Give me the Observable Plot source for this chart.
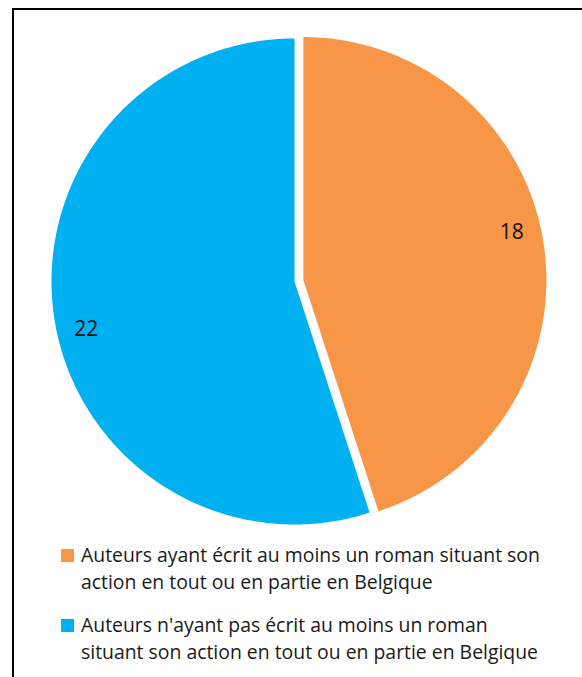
<!DOCTYPE html>
<html>
<head>
<meta charset="utf-8">
<script src="https://cdn.jsdelivr.net/npm/d3@7"></script>
<script src="https://cdn.jsdelivr.net/npm/@observablehq/plot@0.6"></script>
<style>
  html, body { margin: 0; padding: 0; background: #fff; }
  body { width: 582px; height: 677px; position: relative; overflow: hidden; font-family: "Open Sans", sans-serif; }
  #frame { position: absolute; left: 12px; top: 8px; right: -10px; bottom: -10px; border-left: 2px solid #000; border-top: 2px solid #000; }
  #chart { position: absolute; left: 0; top: 0; }
  #legend { position: absolute; left: 61px; top: 541px; color: #1a1a1a; font-size: 19.4px; line-height: 27px; white-space: nowrap; }
  .item { display: flex; align-items: flex-start; margin-bottom: 16px; }
  .sw { width: 13px; height: 13px; margin-top: 8px; margin-right: 7px; flex: none; }
</style>
</head>
<body>
<div id="frame"></div>
<div id="chart"></div>
<div id="legend"></div>
<script>
const categories = [
  "Auteurs ayant écrit au moins un roman situant son action en tout ou en partie en Belgique",
  "Auteurs n'ayant pas écrit au moins un roman situant son action en tout ou en partie en Belgique"
];
const legendLines = [
  ["Auteurs ayant écrit au moins un roman situant son", "action en tout ou en partie en Belgique"],
  ["Auteurs n'ayant pas écrit au moins un roman", "situant son action en tout ou en partie en Belgique"]
];
const values = [18, 22];
const colors = ["#F79646", "#00B0F0"];
const explode = [0.037, 0];

const pie = d3.pie().sort(null).value(d => d.value)(
  categories.map((c, i) => ({ key: c, value: values[i], i }))
);

const slicePts = [];
const labels = [];
pie.forEach(p => {
  const i = p.data.i;
  const mid = (p.startAngle + p.endAngle) / 2;
  const ox = explode[i] * Math.sin(mid), oy = explode[i] * Math.cos(mid);
  slicePts.push({ key: p.data.key, x: ox, y: oy });
  const n = Math.max(2, Math.ceil((p.endAngle - p.startAngle) / 0.01));
  for (let k = 0; k <= n; k++) {
    const a = p.startAngle + (p.endAngle - p.startAngle) * k / n;
    slicePts.push({ key: p.data.key, x: ox + Math.sin(a), y: oy + Math.cos(a) });
  }
  slicePts.push({ key: p.data.key, x: ox, y: oy });
  const la = mid - 0.07, lr = 0.88;
  labels.push({ x: ox + lr * Math.sin(la), y: oy + lr * Math.cos(la), text: String(p.data.value) });
});

const R = 243, cx = 294, cy = 281;
const chart = Plot.plot({
  width: 582,
  height: 540,
  margin: 0,
  x: { domain: [-1, 1], range: [cx - R, cx + R], axis: null },
  y: { domain: [-1, 1], range: [cy + R, cy - R], axis: null },
  color: { domain: categories, range: colors },
  style: { background: "transparent", fontFamily: "Open Sans, sans-serif" },
  marks: [
    Plot.line(slicePts, { x: "x", y: "y", z: "key", fill: "key", stroke: "none", curve: "linear" }),
    Plot.text(labels, { x: "x", y: "y", text: "text", fontSize: 21, fill: "#111" })
  ]
});
document.getElementById("chart").appendChild(chart);

const legend = document.getElementById("legend");
legendLines.forEach((lines, i) => {
  const item = document.createElement("div");
  item.className = "item";
  const sw = document.createElement("div");
  sw.className = "sw";
  sw.style.background = colors[i];
  const t = document.createElement("div");
  t.innerHTML = lines.map(l => l.replace(/&/g, "&amp;").replace(/</g, "&lt;")).join("<br>");
  item.appendChild(sw);
  item.appendChild(t);
  legend.appendChild(item);
});
</script>
</body>
</html>
